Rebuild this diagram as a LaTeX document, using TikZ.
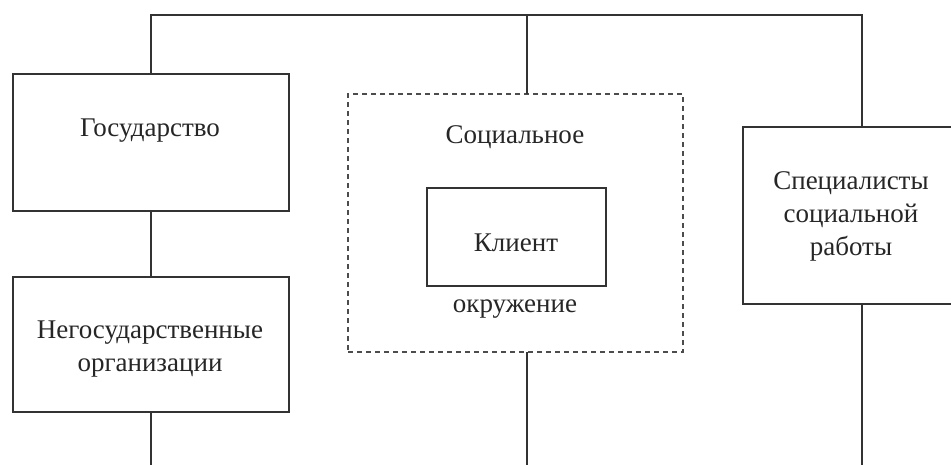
\documentclass[tikz,border=0pt]{standalone}
\usepackage{fontspec}
\setmainfont{Liberation Serif}
\begin{document}
\begin{tikzpicture}[x=1pt,y=-1pt,
  every node/.style={inner sep=0pt, outer sep=0pt},
  txt/.style={font=\fontsize{27}{33}\selectfont, align=center, text=black!85},
  solidbox/.style={draw=black!80, line width=1.8pt, rectangle},
  envbox/.style={draw=black!70, line width=1.5pt, dash pattern=on 5pt off 4pt, rectangle},
  link/.style={draw=black!80, line width=1.8pt}]
\useasboundingbox (0,0) rectangle (951,464);
\fill[white] (0,0) rectangle (951,464);
% boxes
\node[solidbox, minimum width=276pt, minimum height=137pt] (gos) at (151,142.5) {};
\node[solidbox, minimum width=276pt, minimum height=135pt] (ngo) at (151,344.5) {};
\node[envbox, minimum width=335pt, minimum height=258pt] (env) at (515.5,223) {};
\node[solidbox, minimum width=179pt, minimum height=98pt] (cli) at (516.5,237) {};
\node[solidbox, minimum width=230pt, minimum height=177pt] (spec) at (858,215.5) {};
% texts
\node[txt] (tgos) at (150,131) {Государство};
\node[txt] (tngo) at (150,349) {Негосударственные\\организации};
\node[txt] (tsoc) at (515,137) {Социальное};
\node[txt] (tcli) at (516,243) {Клиент};
\node[txt] (tokr) at (515,309) {окружение};
\node[txt] (tspec) at (851,216) {Специалисты\\социальной\\работы};
% connectors
\coordinate (tl) at (151,15);
\coordinate (tm) at (527,15);
\coordinate (tr) at (862,15);
\coordinate (bl) at (151,470);
\coordinate (bm) at (527,470);
\coordinate (br) at (862,470);
\draw[link] (tl |- gos.north) -- (tl) -- (tr) -- (tr |- spec.north);
\draw[link] (tm) -- (tm |- env.north);
\draw[link] (tl |- gos.south) -- (tl |- ngo.north);
\draw[link] (tl |- ngo.south) -- (bl);
\draw[link] (tm |- env.south) -- (bm);
\draw[link] (tr |- spec.south) -- (br);
\end{tikzpicture}
\end{document}
